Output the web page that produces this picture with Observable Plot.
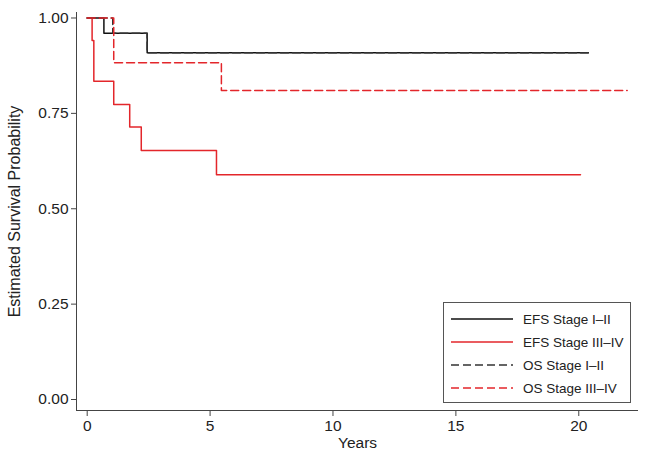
<!DOCTYPE html>
<html>
<head>
<meta charset="utf-8">
<script src="https://cdn.jsdelivr.net/npm/d3@7"></script>
<script src="https://cdn.jsdelivr.net/npm/@observablehq/plot@0.6"></script>
<style>
  html, body { margin: 0; padding: 0; background: #fff; }
  #wrap { position: relative; width: 645px; height: 457px; font-family: "Liberation Sans", Arial, Helvetica, sans-serif; }
  #legend { position: absolute; left: 443px; top: 302px; width: 188px; height: 101px; border: 1px solid #555; box-sizing: border-box; background: #fff; }
  #legend .row { position: absolute; left: 7px; height: 20px; display: flex; align-items: center; font-size: 13.5px; color: #222; white-space: nowrap; }
  #legend svg { margin-right: 10px; }
</style>
</head>
<body>
<div id="wrap"></div>
<script>
// Series: Kaplan–Meier step points (time in years, survival probability)
const efsEarlyTime = [0, 0.68, 2.44, 20.39];
const efsEarlySurv = [1, 0.960, 0.909, 0.909];
const efsLateTime  = [0, 0.20, 0.27, 1.08, 1.73, 2.20, 5.26, 20.07];
const efsLateSurv  = [1, 0.941, 0.834, 0.773, 0.714, 0.653, 0.589, 0.589];
const osEarlyTime  = [0, 1.04, 2.44, 20.39];
const osEarlySurv  = [1, 0.960, 0.909, 0.909];
const osLateTime   = [0, 1.08, 5.46, 21.97];
const osLateSurv   = [1, 0.883, 0.810, 0.810];

const seriesNames  = ["EFS Stage I\u2013II", "EFS Stage III\u2013IV", "OS Stage I\u2013II", "OS Stage III\u2013IV"];
const seriesColors = ["#111111", "#e3262b", "#333333", "#e3262b"];
const seriesDash   = [null, null, "8,4", "8,4"];

const xTicks = [0, 5, 10, 15, 20];
const yTicks = [0, 0.25, 0.5, 0.75, 1];
const xDomain = [-0.435, 22.43];
const yDomain = [-0.0288, 1.0144];

const series = [
  [efsEarlyTime, efsEarlySurv],
  [efsLateTime, efsLateSurv],
  [osEarlyTime, osEarlySurv],
  [osLateTime, osLateSurv]
].map(([t, s], i) => t.map((ti, j) => ({time: ti, surv: s[j], name: seriesNames[i]})));

const lineMarks = series.map((d, i) => Plot.line(d, {
  x: "time", y: "surv", curve: "step-after",
  stroke: seriesColors[i], strokeWidth: 1.5,
  strokeDasharray: seriesDash[i] || undefined
}));

const chart = Plot.plot({
  width: 645, height: 457,
  marginLeft: 76, marginRight: 7, marginTop: 12, marginBottom: 47,
  style: {fontFamily: "'Liberation Sans', Arial, Helvetica, sans-serif", fontSize: "15px", color: "#222", background: "#fff"},
  x: {domain: xDomain},
  y: {domain: yDomain},
  marks: [
    Plot.axisX({ticks: xTicks, tickSize: 6, tickPadding: 3, tickFormat: d3.format("d"), label: null, fontSize: 15.5, stroke: "#444"}),
    Plot.axisX({ticks: [], label: "Years", labelAnchor: "center", labelArrow: "none", labelOffset: 37, fontSize: 15.5}),
    Plot.axisY({ticks: yTicks, tickSize: 5, tickPadding: 3, tickFormat: d3.format(".2f"), label: null, fontSize: 15.5, stroke: "#444"}),
    Plot.axisY({ticks: [], label: "Estimated Survival Probability", labelAnchor: "center", labelArrow: "none", labelOffset: 68, fontSize: 16}),
    Plot.ruleX([xDomain[0]], {stroke: "#444", strokeWidth: 1}),
    Plot.ruleY([yDomain[0]], {stroke: "#444", strokeWidth: 1}),
    ...lineMarks
  ]
});

const wrap = document.getElementById("wrap");
wrap.appendChild(chart);

const legend = document.createElement("div");
legend.id = "legend";
const rowTops = [6, 29, 52, 75];
seriesNames.forEach((name, i) => {
  const row = document.createElement("div");
  row.className = "row";
  row.style.top = rowTops[i] + "px";
  const dash = seriesDash[i] ? ` stroke-dasharray="${seriesDash[i]}"` : "";
  row.innerHTML = `<svg width="62" height="4"><line x1="0" y1="2" x2="62" y2="2" stroke="${seriesColors[i]}" stroke-width="1.5"${dash}/></svg><span>${name}</span>`;
  legend.appendChild(row);
});
wrap.appendChild(legend);
</script>
</body>
</html>
